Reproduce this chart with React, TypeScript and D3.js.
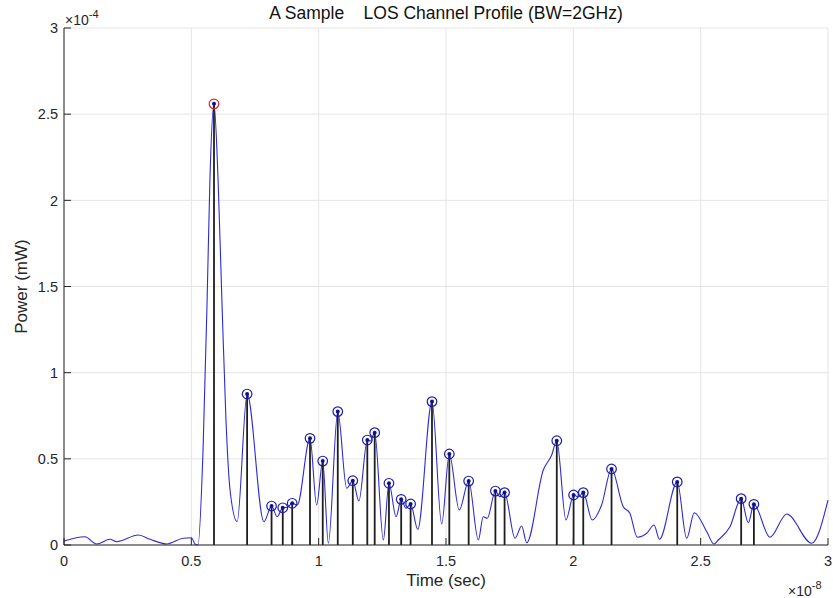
import React from "react";
import * as d3 from "d3";

// Time in units of 1e-8 s, power in units of 1e-4 mW
const curveTime = [0, 0.082, 0.128, 0.181, 0.207, 0.292, 0.338, 0.403, 0.468, 0.501, 0.514, 0.526, 0.546, 0.562, 0.573, 0.589, 0.605, 0.62, 0.636, 0.652, 0.68, 0.719, 0.785, 0.815, 0.837, 0.859, 0.877, 0.896, 0.916, 0.966, 0.992, 1.016, 1.038, 1.075, 1.11, 1.134, 1.158, 1.191, 1.203, 1.22, 1.254, 1.276, 1.304, 1.324, 1.343, 1.361, 1.389, 1.445, 1.483, 1.513, 1.552, 1.589, 1.627, 1.646, 1.662, 1.694, 1.712, 1.73, 1.771, 1.797, 1.817, 1.882, 1.915, 1.935, 1.971, 2.001, 2.02, 2.039, 2.074, 2.111, 2.15, 2.196, 2.222, 2.251, 2.288, 2.317, 2.338, 2.408, 2.445, 2.475, 2.524, 2.552, 2.569, 2.615, 2.659, 2.687, 2.709, 2.772, 2.838, 2.936, 3.0];
const curvePower = [0.023, 0.048, 0.006, 0.033, 0.019, 0.058, 0.033, 0.006, 0.039, 0.042, 0.006, 0, 0.551, 1.42, 2.12, 2.56, 2.12, 1.42, 0.725, 0.319, 0.135, 0.876, 0.135, 0.226, 0.164, 0.216, 0.219, 0.242, 0.232, 0.619, 0.232, 0.487, 0.01, 0.774, 0.329, 0.373, 0.255, 0.609, 0.603, 0.652, 0.029, 0.358, 0.164, 0.265, 0.213, 0.238, 0.091, 0.832, 0.122, 0.528, 0.203, 0.371, 0.029, 0.164, 0.155, 0.313, 0.279, 0.304, 0.039, 0.11, 0.013, 0.435, 0.522, 0.605, 0.145, 0.29, 0.279, 0.304, 0.145, 0.232, 0.441, 0.222, 0.184, 0.045, 0.068, 0.116, 0.033, 0.366, 0.039, 0.187, 0.077, 0.006, 0.029, 0.106, 0.269, 0.129, 0.236, 0.045, 0.18, 0.01, 0.261];

// Detected multipath peaks
const peakTime = [0.589, 0.719, 0.815, 0.859, 0.896, 0.966, 1.016, 1.075, 1.134, 1.191, 1.22, 1.276, 1.324, 1.361, 1.445, 1.513, 1.589, 1.694, 1.73, 1.935, 2.001, 2.039, 2.15, 2.408, 2.659, 2.709];
const peakPower = [2.56, 0.876, 0.226, 0.216, 0.242, 0.619, 0.487, 0.774, 0.373, 0.609, 0.652, 0.358, 0.265, 0.238, 0.832, 0.528, 0.371, 0.313, 0.304, 0.605, 0.29, 0.304, 0.441, 0.366, 0.269, 0.236];

const xTicks = [0, 0.5, 1, 1.5, 2, 2.5, 3];
const yTicks = [0, 0.5, 1, 1.5, 2, 2.5, 3];

const W = 833;
const H = 598;
const left = 64;
const right = 828;
const top = 28;
const bottom = 545;
const font = "'Liberation Sans', Arial, Helvetica, sans-serif";
const axisColor = "#262626";

export default function App() {
  const x = d3.scaleLinear().domain([0, 3]).range([left, right]);
  const y = d3.scaleLinear().domain([0, 3]).range([bottom, top]);

  const pts = curveTime.map((t, i) => [t, curvePower[i]] as [number, number]);
  const line = d3
    .line<[number, number]>()
    .x((d) => x(d[0]))
    .y((d) => y(d[1]))
    .curve(d3.curveMonotoneX);

  return (
    <svg
      width={W}
      height={H}
      style={{ position: "absolute", left: 0, top: 0, background: "#fff" }}
      fontFamily={font}
    >
      <rect x={0} y={0} width={W} height={H} fill="#fff" />
      {/* grid */}
      {xTicks.map((t) => (
        <line key={"gx" + t} x1={x(t)} x2={x(t)} y1={top} y2={bottom} stroke="#e5e5e5" strokeWidth={1} />
      ))}
      {yTicks.map((t) => (
        <line key={"gy" + t} x1={left} x2={right} y1={y(t)} y2={y(t)} stroke="#e5e5e5" strokeWidth={1} />
      ))}

      {/* interpolated channel response */}
      <path d={line(pts) || ""} fill="none" stroke="#2b2bd6" strokeWidth={1.1} />

      {/* stems */}
      {peakTime.map((t, i) => (
        <line
          key={"s" + i}
          x1={x(t)}
          x2={x(t)}
          y1={y(0)}
          y2={y(peakPower[i])}
          stroke="#1e1e1e"
          strokeWidth={1.8}
        />
      ))}
      {peakTime.map((t, i) => (
        <g key={"m" + i}>
          <circle cx={x(t)} cy={y(peakPower[i])} r={2} fill="#10108a" />
          <circle
            cx={x(t)}
            cy={y(peakPower[i])}
            r={4.8}
            fill="none"
            stroke={i === 0 ? "#d42a2a" : "#1c1cb4"}
            strokeWidth={1.2}
          />
        </g>
      ))}

      {/* axes */}
      <line x1={left} x2={right} y1={bottom} y2={bottom} stroke={axisColor} strokeWidth={1} />
      <line x1={left} x2={left} y1={top} y2={bottom} stroke={axisColor} strokeWidth={1} />
      {xTicks.map((t) => (
        <g key={"xt" + t}>
          <line x1={x(t)} x2={x(t)} y1={bottom} y2={bottom - 7} stroke={axisColor} />
          <text x={x(t)} y={bottom + 21} textAnchor="middle" fontSize={14.5} fill={axisColor}>
            {String(t)}
          </text>
        </g>
      ))}
      {yTicks.map((t) => (
        <g key={"yt" + t}>
          <line x1={left} x2={left + 7} y1={y(t)} y2={y(t)} stroke={axisColor} />
          <text x={left - 6} y={y(t) + 5.3} textAnchor="end" fontSize={14.5} fill={axisColor}>
            {String(t)}
          </text>
        </g>
      ))}

      {/* exponent annotations */}
      <text x={65} y={25} fontSize={14} fill={axisColor}>
        ×10
        <tspan dy={-7} fontSize={11}>-4</tspan>
      </text>
      <text x={788} y={596} fontSize={14} fill={axisColor}>
        ×10
        <tspan dy={-7} fontSize={11}>-8</tspan>
      </text>

      {/* labels */}
      <text
        x={(left + right) / 2}
        y={18.5}
        textAnchor="middle"
        fontSize={17.5}
        fill="#111"
        style={{ whiteSpace: "pre" }}
        xmlSpace="preserve"
      >
        {"A Sample    LOS Channel Profile (BW=2GHz)"}
      </text>
      <text x={(left + right) / 2} y={586} textAnchor="middle" fontSize={17} fill={axisColor}>
        Time (sec)
      </text>
      <text
        transform={`translate(26.5, ${(top + bottom) / 2}) rotate(-90)`}
        textAnchor="middle"
        fontSize={17}
        fill={axisColor}
      >
        Power (mW)
      </text>
    </svg>
  );
}
